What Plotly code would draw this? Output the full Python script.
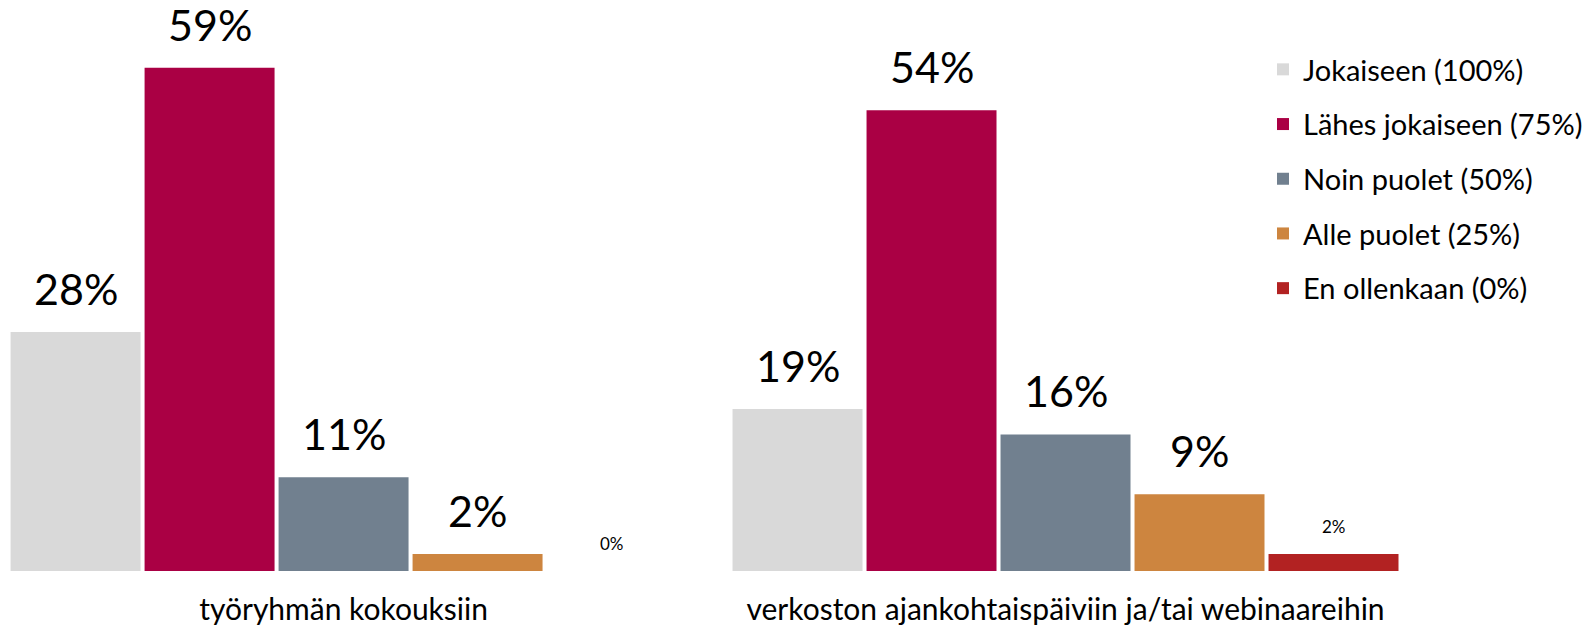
import plotly.graph_objects as go

categories = ["työryhmän kokouksiin", "verkoston ajankohtaispäiviin ja/tai webinaareihin"]
series_names = ["Jokaiseen (100%)", "Lähes jokaiseen (75%)", "Noin puolet (50%)",
                "Alle puolet (25%)", "En ollenkaan (0%)"]
jokaiseen = [28, 19]
lahes_jokaiseen = [59, 54]
noin_puolet = [11, 16]
alle_puolet = [2, 9]
en_ollenkaan = [0, 2]
series_values = [jokaiseen, lahes_jokaiseen, noin_puolet, alle_puolet, en_ollenkaan]
colors = ["#D9D9D9", "#AA0044", "#71808F", "#CD853F", "#B22222"]

FONT = "Lato"
BARGAP = 0.072
n = len(series_names)
slot = (1 - BARGAP) / n
xs = list(range(len(categories)))

# page body has an 8px margin; figure sized to fill the rest of the window
W, H = 1586, 621
ML, MR, MT, MB = 0, 174, 0, 58
PW = W - ML - MR
PH = H - MT - MB

fig = go.Figure()
for i, (name, vals, col) in enumerate(zip(series_names, series_values, colors)):
    fig.add_trace(go.Bar(
        x=xs, y=vals, name=name, marker=dict(color=col, line=dict(width=0)),
        legendgroup=name, hoverinfo="skip",
    ))
    for j, v in enumerate(vals):
        big = i != 4
        fig.add_annotation(
            x=xs[j] + (i - (n - 1) / 2) * slot, y=v, xref="x", yref="y",
            text=f"{v}%", showarrow=False, yanchor="bottom",
            yshift=16 if big else 15,
            font=dict(family=FONT, size=43 if big else 17, color="#000000"),
        )

fig.update_layout(
    barmode="group", bargap=BARGAP, bargroupgap=0.03,
    width=W, height=H,
    margin=dict(l=ML, r=MR, t=MT, b=MB, autoexpand=False),
    paper_bgcolor="white", plot_bgcolor="white",
    font=dict(family=FONT, color="#000000"),
    showlegend=True,
    legend=dict(
        x=(1255 - ML) / PW, y=1 - (36 - MT) / PH,
        xanchor="left", yanchor="top",
        font=dict(family=FONT, size=29, color="#000000"),
        tracegroupgap=14, traceorder="grouped", itemclick=False,
    ),
    xaxis=dict(
        tickmode="array", tickvals=xs, ticktext=categories,
        range=[-0.4648, 1.491], showgrid=False, zeroline=False, showline=False,
        ticks="", tickfont=dict(family=FONT, size=30, color="#000000"),
        ticklabelstandoff=18,
    ),
    yaxis=dict(range=[0, 65.99], visible=False, showgrid=False, zeroline=False),
)

fig.write_html("out.html")
